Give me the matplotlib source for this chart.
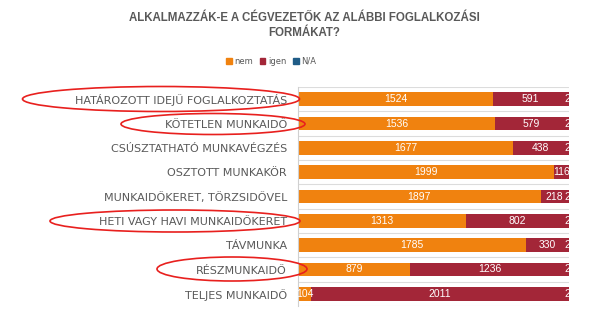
import matplotlib
matplotlib.use("Agg")
import matplotlib.pyplot as plt
from matplotlib.patches import Ellipse, Patch
import numpy as np

categories = ["HATÁROZOTT IDEJŰ FOGLALKOZTATÁS", "KÖTETLEN MUNKAIDŐ",
              "CSÚSZTATHATÓ MUNKAVÉGZÉS", "OSZTOTT MUNKAKÖR",
              "MUNKAIDŐKERET, TÖRZSIDŐVEL", "HETI VAGY HAVI MUNKAIDŐKERET",
              "TÁVMUNKA", "RÉSZMUNKAIDŐ", "TELJES MUNKAIDŐ"]
nem = [1524, 1536, 1677, 1999, 1897, 1313, 1785, 879, 104]
igen = [591, 579, 438, 116, 218, 802, 330, 1236, 2011]
na = [23, 23, 23, 23, 23, 23, 23, 23, 23]
series_names = ["nem", "igen", "N/A"]
title = "ALKALMAZZÁK-E A CÉGVEZETŐK AZ ALÁBBI FOGLALKOZÁSI\nFORMÁKAT?"
highlighted = [0, 1, 5, 7]

colors = ["#F0820F", "#A32638", "#1F5C87"]
gray = "#595959"

W, H = 597, 321
fig = plt.figure(figsize=(W / 100, H / 100), dpi=100)
ax = fig.add_axes([298 / W, 1 - 306 / H, 271 / W, 219 / H])

y = np.arange(len(categories))
left = np.zeros(len(categories))
prev = None
for k, (vals, col) in enumerate(zip([nem, igen, na], colors)):
    vals = np.array(vals, dtype=float)
    ax.barh(y, vals, left=left, height=0.55, color=col, edgecolor="none", zorder=2)
    for yi, (l, v) in enumerate(zip(left, vals)):
        # the (mostly clipped) N/A label is hidden when the igen label beside it is too wide
        if k == 2 and prev[yi] < 150:
            continue
        ax.text(l + v / 2, yi, f"{int(v)}", ha="center", va="center",
                color="white", fontsize=7.5, family="Liberation Sans",
                clip_on=True, zorder=3)
    left += vals
    prev = vals

ax.set_xlim(0, 2118)
ax.set_ylim(len(categories) - 0.5, -0.5)
ax.set_yticks(y)
ax.set_yticklabels(categories, fontsize=8, color=gray, family="DejaVu Sans")
ax.tick_params(axis="y", length=0, pad=8)
ax.set_xticks([])
for b in np.arange(-0.5, len(categories) + 0.5, 1):
    ax.axhline(b, color="#dcdcdc", lw=0.8, zorder=1)
for s in ["top", "right", "bottom"]:
    ax.spines[s].set_visible(False)
ax.spines["left"].set_color("#d0d0d0")
ax.spines["left"].set_linewidth(0.8)

fig.text(304 / W, 1 - 25.5 / H, title, ha="center", va="center",
         fontsize=8.3, fontweight="bold", color=gray, linespacing=1.3,
         family="Liberation Sans")

handles = [Patch(color=c) for c in colors]
fig.legend(handles, series_names, loc="center", bbox_to_anchor=(271 / W, 1 - 61 / H),
           ncol=3, frameon=False, fontsize=6, handlelength=0.7, handleheight=0.7,
           handletextpad=0.3, columnspacing=0.8, labelcolor=gray)

# overlay for red ellipses
ov = fig.add_axes([0, 0, 1, 1], facecolor="none")
ov.set_xlim(0, W)
ov.set_ylim(H, 0)
ov.axis("off")
ell = {0: (161, 99, 277, 25), 1: (213, 124, 184, 21),
       5: (175, 221, 250, 22), 7: (232, 269, 150, 24)}
for i in highlighted:
    cx, cy, w, h = ell[i]
    ov.add_patch(Ellipse((cx, cy), w, h, fill=False, edgecolor="#E8201E", lw=1.2))

fig.savefig("out.png", dpi=100)
